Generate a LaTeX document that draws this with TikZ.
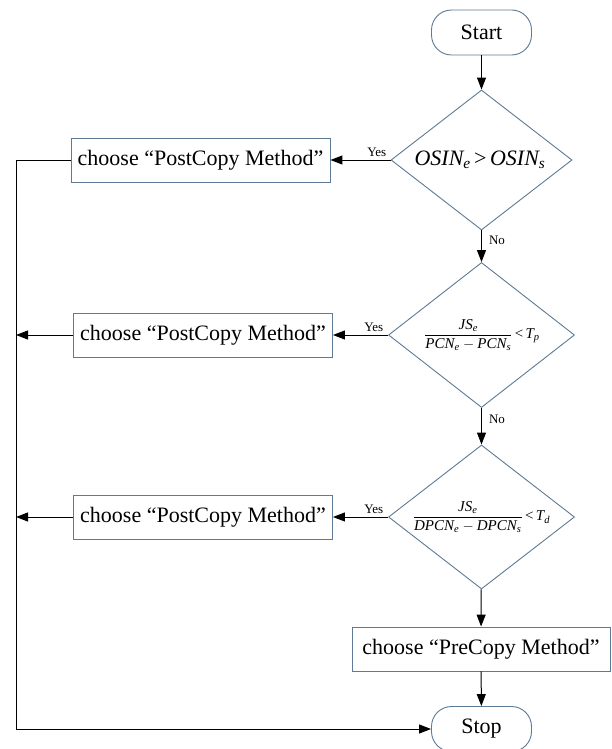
\documentclass[tikz,border=0pt]{standalone}
\usepackage{amsmath}
\usepackage{fontspec}
\setmainfont{Liberation Serif}
\usetikzlibrary{arrows.meta,shapes.geometric}
\definecolor{bord}{HTML}{5E7A96}
\begin{document}
\begin{tikzpicture}[x=1pt,y=-1pt,
  box/.style={draw=bord, line width=0.9pt, rectangle, minimum width=259pt, minimum height=44pt, inner sep=0pt, font=\fontsize{22}{26}\selectfont},
  term/.style={draw=bord, line width=0.9pt, rectangle, rounded corners=20pt, minimum width=100pt, minimum height=45pt, inner sep=0pt, font=\fontsize{22}{26}\selectfont},
  dec/.style={draw=bord, line width=0.9pt, diamond, inner sep=0pt},
  formula/.style={inner sep=0pt},
  arr/.style={draw=black, line width=1pt, -{Triangle[length=12pt,width=9pt]}},
  lab/.style={font=\fontsize{13}{15}\selectfont, inner sep=1pt}
]
\useasboundingbox (0,0) rectangle (611,749);
\fill[white] (0,0) rectangle (611,749);

% main column
\node[term] (start) at (481.5,32.5) {Start};
\node[dec, minimum width=181pt, minimum height=140pt] (d1) at (481.5,160) {};
\node[formula, font=\fontsize{22}{26}\selectfont] (f1) at (480,160) {$\textit{OSIN}_{\textit{e}}\,\text{>}\,\textit{OSIN}_{\textit{s}}$};
\node[dec, minimum width=186pt, minimum height=145pt] (d2) at (481.5,335) {};
\node[formula, font=\fontsize{15}{18}\selectfont] (f2) at (482,335) {$\dfrac{\textit{JS}_{\textit{e}}}{\textit{PCN}_{\textit{e}}-\textit{PCN}_{\textit{s}}}\,\text{<}\,\textit{T}_{\textit{p}}$};
\node[dec, minimum width=186pt, minimum height=144pt] (d3) at (481.5,517) {};
\node[formula, font=\fontsize{15}{18}\selectfont] (f3) at (481.5,517) {$\dfrac{\textit{JS}_{\textit{e}}}{\textit{DPCN}_{\textit{e}}-\textit{DPCN}_{\textit{s}}}\,\text{<}\,\textit{T}_{\textit{d}}$};
\node[box, minimum width=258pt] (pre) at (481,649) {choose “PreCopy Method”};
\node[term] (stop) at (481.5,729) {Stop};

% left boxes
\node[box] (b1) at (200.5,160) {choose “PostCopy Method”};
\node[box] (b2) at (203,335) {choose “PostCopy Method”};
\node[box] (b3) at (203,517) {choose “PostCopy Method”};

% coordinates of the left bus
\coordinate (c1) at (16,160);
\coordinate (c2) at (16,335);
\coordinate (c3) at (16,517);
\coordinate (c4) at (16,729);

% connectors
\draw[arr] (start) -- (d1);
\draw[arr] (d1) -- node[lab, right=6pt, pos=0.3] {No} (d2);
\draw[arr] (d2) -- node[lab, right=6pt, pos=0.3] {No} (d3);
\draw[arr] (d3) -- (pre);
\draw[arr] (pre) -- (stop);

\draw[arr] (d1.west) -- node[lab, above=2pt, pos=0.23] {Yes} (b1.east);
\draw[arr] (d2.west) -- node[lab, above=2pt, pos=0.26] {Yes} (b2.east);
\draw[arr] (d3.west) -- node[lab, above=2pt, pos=0.26] {Yes} (b3.east);

\draw[arr] (b1.west) -- (c1) -- (c4) -- (stop.west);
\draw[arr] (b2.west) -- (c2);
\draw[arr] (b3.west) -- (c3);
\end{tikzpicture}
\end{document}
